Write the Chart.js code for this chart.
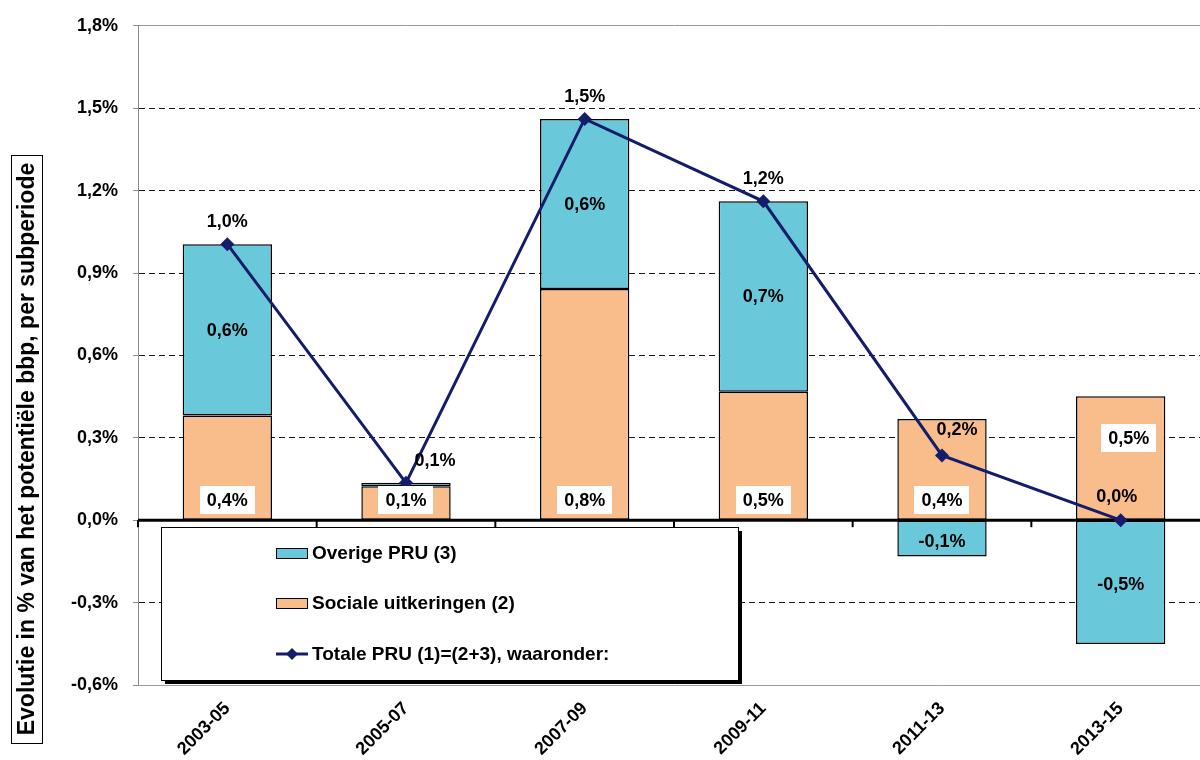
<!DOCTYPE html>
<html>
<head>
<meta charset="utf-8">
<script src="https://cdn.jsdelivr.net/npm/chart.js@4.4.1/dist/chart.umd.min.js"></script>
<style>
  html, body { margin: 0; padding: 0; background: #ffffff; overflow: hidden; }
  #wrap { width: 1217px; height: 760px; }
</style>
</head>
<body>
<div id="wrap"><canvas id="c" width="1217" height="760"></canvas></div>
<script>
// Subperiods on the category axis
const periods = ['2003-05', '2005-07', '2007-09', '2009-11', '2011-13', '2013-15'];

// Change in % of potential GDP per subperiod
const socialeUitkeringen = [0.381, 0.124, 0.842, 0.468, 0.368, 0.451];
const overigePRU         = [0.624, 0.012, 0.619, 0.693, -0.132, -0.451];
const totalePRU          = [1.005, 0.136, 1.461, 1.161, 0.236, 0.0];

// Value axis ticks
const yTickValues = [-0.6, -0.3, 0.0, 0.3, 0.6, 0.9, 1.2, 1.5, 1.8];

const seriesNames = {
  sociale: 'Sociale uitkeringen (2)',
  overige: 'Overige PRU (3)',
  totale: 'Totale PRU (1)=(2+3), waaronder:'
};
const axisTitle = 'Evolutie in % van het potentiële bbp, per subperiode';

const FONT = '"Liberation Sans", Arial, Helvetica, sans-serif';
const COLORS = { orange: '#f8bd8b', blue: '#69c9da', navy: '#141d6b' };

const fmtPct = v => (Math.abs(v) < 0.0005 ? 0 : v).toFixed(1).replace('.', ',') + '%';
const near = (a, b) => Math.abs(a - b) < 1e-6;

// Thick zero line with short tick marks at the category boundaries,
// drawn over the bars but under the total line.
const zeroLine = {
  id: 'zeroLine',
  beforeDatasetDraw(chart, args) {
    if (args.meta.type !== 'line') return;
    const { ctx, chartArea, scales } = chart;
    const y0 = scales.y.getPixelForValue(0);
    const xs = scales.x;
    ctx.save();
    ctx.strokeStyle = '#000';
    ctx.lineWidth = 3;
    ctx.beginPath();
    ctx.moveTo(chartArea.left, y0);
    ctx.lineTo(chartArea.right, y0);
    ctx.stroke();
    ctx.lineWidth = 2;
    const step = xs.getPixelForValue(1) - xs.getPixelForValue(0);
    for (let i = 0; i <= periods.length; i++) {
      const bx = xs.getPixelForValue(0) - step / 2 + i * step;
      ctx.beginPath();
      ctx.moveTo(bx, y0);
      ctx.lineTo(bx, y0 + 7);
      ctx.stroke();
    }
    ctx.restore();
  }
};

// Value labels: component labels in the bars, totals above the line points
const valueLabels = {
  id: 'valueLabels',
  afterDatasetsDraw(chart) {
    const { ctx, scales } = chart;
    const y0 = scales.y.getPixelForValue(0);
    const lineNudge = { 1: [29, 0], 4: [15, -3], 5: [-4, -1] };
    ctx.save();
    ctx.font = 'bold 18px ' + FONT;
    ctx.textAlign = 'center';
    ctx.textBaseline = 'middle';
    chart.data.datasets.forEach((ds, di) => {
      const meta = chart.getDatasetMeta(di);
      meta.data.forEach((el, i) => {
        const v = ds.data[i];
        const text = fmtPct(v);
        let x = el.x, y, boxed = false;
        if (ds.key === 'sociale') {
          boxed = true;
          // inside the base, unless the total label already sits there
          if (Math.abs(totalePRU[i]) < 0.05) {
            y = el.y + (y0 - el.y) / 3;
            x += 8;
          } else {
            y = y0 - 20;
          }
        } else if (ds.key === 'overige') {
          if (Math.abs(v) < 0.05) return;
          y = (el.y + el.base) / 2 + (v < 0 ? 2 : 0);
        } else {
          const n = lineNudge[i] || [0, 0];
          x += n[0];
          y = el.y - 23 + n[1];
        }
        if (boxed) {
          const w = ctx.measureText(text).width + 14;
          ctx.fillStyle = '#ffffff';
          ctx.fillRect(Math.round(x - w / 2), Math.round(y - 14), Math.round(w), 28);
        }
        ctx.fillStyle = '#000';
        ctx.fillText(text, x, y + 1);
      });
    });
    ctx.restore();
  }
};

// Legend box with drop shadow, plus the boxed vertical axis title
const framedLegend = {
  id: 'framedLegend',
  afterDraw(chart) {
    const { ctx, chartArea } = chart;
    const bx = chartArea.left + 23, by = 527, bw = 577, bh = 153;
    ctx.save();
    ctx.fillStyle = '#000';
    ctx.fillRect(bx + 4, by + 4, bw, bh);
    ctx.fillStyle = '#fff';
    ctx.fillRect(bx, by, bw, bh);
    ctx.strokeStyle = '#000';
    ctx.lineWidth = 1;
    ctx.strokeRect(bx + 0.5, by + 0.5, bw, bh);

    const order = ['overige', 'sociale', 'totale'];
    const rowY = [553, 603, 654];
    const sx = bx + 115, sw = 32;
    ctx.font = 'bold 19px ' + FONT;
    ctx.textAlign = 'left';
    ctx.textBaseline = 'middle';
    order.forEach((key, r) => {
      const ds = chart.data.datasets.find(d => d.key === key);
      const y = rowY[r];
      if (ds.type === 'line') {
        ctx.strokeStyle = ds.borderColor;
        ctx.lineWidth = 3;
        ctx.beginPath();
        ctx.moveTo(sx, y);
        ctx.lineTo(sx + sw, y);
        ctx.stroke();
        ctx.fillStyle = ds.borderColor;
        ctx.beginPath();
        ctx.moveTo(sx + sw / 2, y - 6);
        ctx.lineTo(sx + sw / 2 + 6, y);
        ctx.lineTo(sx + sw / 2, y + 6);
        ctx.lineTo(sx + sw / 2 - 6, y);
        ctx.closePath();
        ctx.fill();
      } else {
        ctx.fillStyle = ds.backgroundColor;
        ctx.fillRect(sx, y - 5, sw, 10);
        ctx.strokeStyle = '#000';
        ctx.lineWidth = 1;
        ctx.strokeRect(sx + 0.5, y - 5 + 0.5, sw - 1, 10);
      }
      ctx.fillStyle = '#000';
      ctx.fillText(ds.label, sx + sw + 4, y + 1);
    });

    // vertical axis title in a framed box
    const tx = 11, ty = 155, tw = 31, th = 588;
    ctx.fillStyle = '#fff';
    ctx.fillRect(tx, ty, tw, th);
    ctx.strokeStyle = '#000';
    ctx.lineWidth = 1;
    ctx.strokeRect(tx + 0.5, ty + 0.5, tw, th);
    ctx.translate(tx + tw / 2 + 1, ty + th / 2);
    ctx.rotate(-Math.PI / 2);
    ctx.font = 'bold 23px ' + FONT;
    ctx.textAlign = 'center';
    ctx.textBaseline = 'middle';
    ctx.fillStyle = '#000';
    ctx.fillText(axisTitle, 0, 0);
    ctx.restore();
  }
};

const isFrameTick = v => near(v, yTickValues[0]) || near(v, yTickValues[yTickValues.length - 1]);

new Chart(document.getElementById('c'), {
  data: {
    labels: periods,
    datasets: [
      {
        key: 'totale',
        type: 'line',
        label: seriesNames.totale,
        data: totalePRU,
        borderColor: COLORS.navy,
        backgroundColor: COLORS.navy,
        borderWidth: 3,
        pointStyle: 'rectRot',
        pointRadius: 7,
        pointBorderWidth: 0,
        pointBackgroundColor: COLORS.navy,
        tension: 0,
        order: 0
      },
      {
        key: 'sociale',
        type: 'bar',
        label: seriesNames.sociale,
        data: socialeUitkeringen,
        backgroundColor: COLORS.orange,
        borderColor: '#000',
        borderWidth: 1.5,
        borderSkipped: false,
        stack: 'pru',
        order: 1
      },
      {
        key: 'overige',
        type: 'bar',
        label: seriesNames.overige,
        data: overigePRU,
        backgroundColor: COLORS.blue,
        borderColor: '#000',
        borderWidth: 1.5,
        borderSkipped: false,
        stack: 'pru',
        order: 2
      }
    ]
  },
  options: {
    responsive: false,
    animation: false,
    devicePixelRatio: 1,
    layout: { padding: { top: 25, left: 0, right: 0, bottom: 0 } },
    datasets: { bar: { barPercentage: 0.5, categoryPercentage: 1.0 } },
    plugins: {
      legend: { display: false },
      tooltip: { enabled: false },
      title: { display: false }
    },
    scales: {
      x: {
        type: 'category',
        stacked: true,
        offset: true,
        grid: { display: false, drawTicks: false },
        border: { display: false },
        ticks: {
          autoSkip: false,
          minRotation: 45,
          maxRotation: 45,
          padding: 13,
          color: '#000',
          font: { family: FONT, size: 18, weight: 'bold' }
        },
        afterFit(scale) { scale.height = 75; }
      },
      y: {
        stacked: true,
        min: yTickValues[0],
        max: yTickValues[yTickValues.length - 1],
        afterBuildTicks(scale) { scale.ticks = yTickValues.map(v => ({ value: v })); },
        ticks: {
          padding: 15,
          color: '#000',
          font: { family: FONT, size: 18, weight: 'bold' },
          callback: v => fmtPct(v)
        },
        grid: {
          drawTicks: true,
          tickLength: 5,
          lineWidth: 1,
          tickColor: '#8c8c8c',
          color: ctx => {
            const v = ctx.tick ? ctx.tick.value : null;
            if (v === null) return '#000';
            if (near(v, 0)) return 'rgba(0,0,0,0)';
            return isFrameTick(v) ? '#9a9a9a' : '#1a1a1a';
          }
        },
        border: {
          display: true,
          color: '#8c8c8c',
          width: 1,
          dash: ctx => (ctx.tick && isFrameTick(ctx.tick.value)) ? [] : [6, 4]
        },
        afterFit(scale) { scale.width = 138; }
      }
    }
  },
  plugins: [zeroLine, valueLabels, framedLegend]
});
</script>
</body>
</html>
